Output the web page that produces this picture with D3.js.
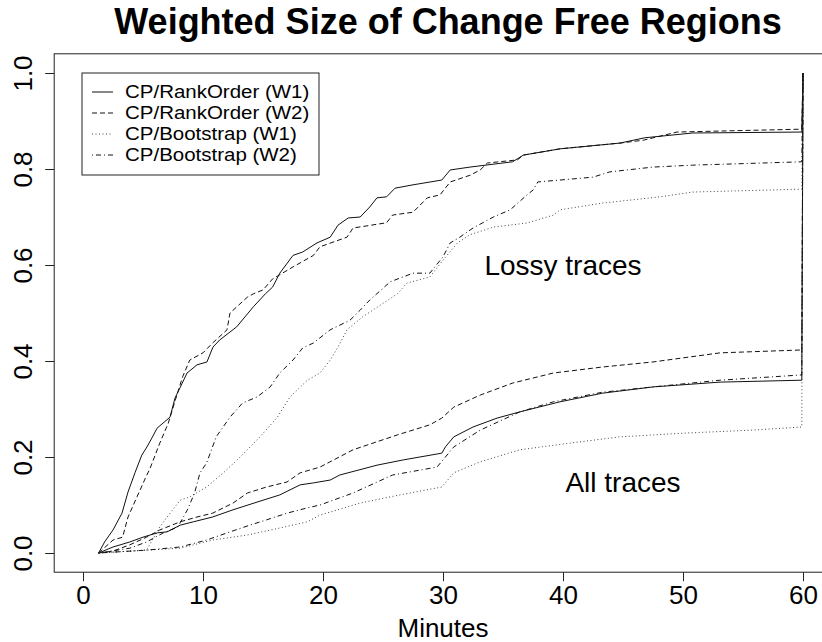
<!DOCTYPE html>
<html>
<head>
<meta charset="utf-8">
<script src="https://cdn.jsdelivr.net/npm/d3@7"></script>
<style>
  html, body { margin: 0; padding: 0; background: #fff; }
  svg { display: block; font-family: "Liberation Sans", Arial, Helvetica, sans-serif; }
</style>
</head>
<body>
<svg id="chart" width="822" height="642"></svg>
<script>
// Cumulative weighted size of change-free regions, [minutes, fraction]
const lossyRankW1 = [[1.3,0],[1.8,0.023],[2.5,0.048],[3.25,0.083],[3.75,0.127],[4.33,0.167],[4.9,0.204],[5.33,0.221],[5.75,0.24],[6.17,0.26],[7.25,0.283],[7.67,0.323],[8.08,0.344],[8.67,0.375],[9.5,0.392],[10.33,0.398],[10.83,0.429],[11.4,0.444],[12.8,0.471],[14.2,0.513],[15.2,0.54],[15.8,0.554],[16.4,0.583],[17.5,0.62],[18.3,0.627],[19.5,0.646],[20.6,0.658],[21.25,0.683],[22.1,0.698],[23.1,0.70],[23.9,0.721],[24.5,0.74],[25.3,0.742],[26,0.76],[27.5,0.767],[29.9,0.777],[30.6,0.798],[32.25,0.804],[35.8,0.815],[36.7,0.829],[39.75,0.842],[44.75,0.854],[46.8,0.865],[50.8,0.875],[59.9,0.877],[60,1.0]];
const lossyRankW2 = [[1.3,0],[2.5,0.027],[3.3,0.033],[3.75,0.075],[4.5,0.117],[5.2,0.156],[5.6,0.177],[6.4,0.229],[7.1,0.27],[7.7,0.319],[8.3,0.367],[8.9,0.402],[10,0.417],[10.8,0.4375],[12,0.465],[12.25,0.5],[13.7,0.533],[14.2,0.54],[15,0.548],[15.8,0.571],[17.5,0.596],[19.2,0.62],[19.75,0.638],[22,0.658],[22.5,0.677],[25.3,0.688],[25.8,0.704],[27.5,0.71],[28.7,0.74],[29.75,0.746],[30.6,0.773],[32.25,0.787],[33.1,0.798],[33.7,0.8125],[36.2,0.819],[36.7,0.829],[39.75,0.842],[44.75,0.854],[46.7,0.86],[49.5,0.877],[59.9,0.883],[60,1.0]];
const lossyBootW1 = [[1.3,0],[5.3,0.006],[6.4,0.054],[7.25,0.083],[8.1,0.11],[8.9,0.117],[10.3,0.1375],[11.7,0.167],[13.1,0.2],[14.75,0.242],[16.2,0.283],[17.25,0.325],[18.7,0.36],[19.75,0.375],[20.6,0.402],[21.2,0.427],[22,0.465],[23.3,0.492],[25,0.52],[26.2,0.54],[27,0.5625],[28.9,0.575],[30,0.61],[31.2,0.646],[32.25,0.663],[34.2,0.679],[37,0.6875],[39.2,0.704],[39.75,0.715],[43.3,0.729],[48.1,0.742],[50.8,0.752],[59.9,0.758],[60,1.0]];
const lossyBootW2 = [[1.3,0],[3.9,0.01],[5.3,0.023],[6.7,0.042],[7.9,0.054],[8.7,0.09],[9.3,0.125],[9.75,0.167],[10.3,0.1875],[11.1,0.242],[12.25,0.283],[13.3,0.3125],[14.5,0.325],[15.6,0.346],[16.4,0.375],[17.5,0.402],[18.3,0.427],[19.2,0.4375],[20.6,0.465],[22.25,0.485],[23.1,0.506],[23.9,0.527],[25.6,0.565],[27.5,0.583],[28.9,0.583],[30,0.617],[30.6,0.646],[31.4,0.658],[32.5,0.677],[34.2,0.7],[35.6,0.715],[37,0.746],[37.5,0.756],[37.9,0.773],[42.5,0.783],[43.9,0.794],[47.5,0.804],[50.8,0.808],[59.9,0.815],[60,1.0]];

const allRankW1 = [[1.3,0],[2.5,0.0125],[3.9,0.023],[5,0.033],[6.2,0.042],[7,0.044],[8.1,0.058],[9.2,0.065],[10.8,0.075],[12.5,0.09],[14.5,0.106],[16.4,0.121],[18.1,0.142],[19.2,0.146],[20.6,0.152],[21.4,0.1625],[24.5,0.183],[26.7,0.194],[29.9,0.208],[30.2,0.221],[30.9,0.242],[32.5,0.2625],[34.5,0.281],[36.4,0.294],[39.75,0.315],[43.3,0.333],[47.5,0.346],[53.1,0.356],[59.9,0.36],[60,1.0]];
const allRankW2 = [[1.3,0],[2.5,0.004],[3.9,0.017],[5.3,0.033],[6.4,0.048],[8.1,0.065],[9.5,0.075],[10.8,0.083],[12.5,0.104],[13.7,0.125],[15.3,0.1375],[17,0.148],[18.1,0.167],[19.75,0.179],[22.5,0.215],[26.2,0.246],[28.9,0.267],[29.9,0.281],[30.9,0.304],[33.1,0.329],[35.8,0.354],[39.2,0.375],[43.3,0.3875],[47.5,0.398],[53.1,0.417],[59.9,0.423],[60,1.0]];
const allBootW1 = [[1.3,0],[8.1,0.01],[10.8,0.027],[13.7,0.0375],[16.4,0.052],[18.7,0.065],[19.75,0.079],[23.1,0.104],[26.4,0.121],[29.9,0.1375],[30.9,0.167],[33.1,0.19],[36.4,0.215],[40.6,0.229],[44.75,0.242],[50.3,0.25],[55.8,0.256],[59.9,0.2625],[60,1.0]];
const allBootW2 = [[1.3,0],[5.3,0.006],[8.1,0.0125],[10.3,0.027],[12.25,0.044],[13.9,0.058],[15.3,0.069],[17,0.083],[18.7,0.094],[19.75,0.1],[22.5,0.125],[25.8,0.1625],[29.5,0.179],[30,0.194],[30.9,0.221],[33.1,0.256],[36.4,0.294],[39.2,0.315],[43.3,0.335],[47.5,0.346],[53.1,0.36],[59.9,0.371],[60,1.0]];

const legendLabels = ["CP/RankOrder (W1)", "CP/RankOrder (W2)", "CP/Bootstrap (W1)", "CP/Bootstrap (W2)"];
const xTicks = [0, 10, 20, 30, 40, 50, 60];
const yTicks = [0, 0.2, 0.4, 0.6, 0.8, 1.0];
const titleText = "Weighted Size of Change Free Regions";
const xLabel = "Minutes";
const annotations = [
  { text: "Lossy traces", x: 40, y: 0.58 },
  { text: "All traces", x: 45, y: 0.127 }
];

// line styles per method (index matches legendLabels)
const styles = [
  { dash: null, color: "#111" },
  { dash: "5,3", color: "#111" },
  { dash: "1,2.5", color: "#444" },
  { dash: "1,3,5,3", color: "#111" }
];

const svg = d3.select("#chart");

// 4% padding around the data range on both axes
const x = d3.scaleLinear().domain([-2.4, 62.4]).range([54.2, 831.8]);
const y = d3.scaleLinear().domain([-0.04, 1.04]).range([572.2, 53.8]);

const line = d3.line().x(d => x(d[0])).y(d => y(d[1]));

const groups = [
  [lossyRankW1, lossyRankW2, lossyBootW1, lossyBootW2],
  [allRankW1, allRankW2, allBootW1, allBootW2]
];

const plot = svg.append("g");
groups.forEach(set => {
  set.forEach((data, i) => {
    plot.append("path")
      .datum(data)
      .attr("d", line)
      .attr("fill", "none")
      .attr("stroke", styles[i].color)
      .attr("stroke-width", 1)
      .attr("stroke-dasharray", styles[i].dash);
  });
});

// frame
svg.append("rect")
  .attr("x", x.range()[0]).attr("y", y.range()[1])
  .attr("width", x.range()[1] - x.range()[0])
  .attr("height", y.range()[0] - y.range()[1])
  .attr("fill", "none").attr("stroke", "#222").attr("stroke-width", 1);

// axes
const xAxis = svg.append("g")
  .attr("transform", `translate(0,${y.range()[0]})`)
  .call(d3.axisBottom(x).tickValues(xTicks).tickFormat(d3.format("d")).tickSize(9).tickPadding(4).tickSizeOuter(0));
xAxis.select(".domain").remove();
xAxis.selectAll("line").attr("stroke", "#222");
xAxis.selectAll("text").attr("font-size", 26).attr("fill", "#000")
  .style("font-family", "'Liberation Sans', Arial, sans-serif");

const yAxis = svg.append("g")
  .attr("transform", `translate(${x.range()[0]},0)`)
  .call(d3.axisLeft(y).tickValues(yTicks).tickFormat(d3.format(".1f")).tickSize(9).tickSizeOuter(0));
yAxis.select(".domain").remove();
yAxis.selectAll("line").attr("stroke", "#222");
yAxis.selectAll("text")
  .attr("font-size", 26).attr("fill", "#000")
  .style("font-family", "'Liberation Sans', Arial, sans-serif")
  .attr("text-anchor", "middle")
  .attr("x", 0).attr("dy", 0).attr("y", -22)
  .attr("transform", "rotate(-90)");

// title and axis label
svg.append("text")
  .attr("x", 448).attr("y", 34)
  .attr("text-anchor", "middle").attr("font-size", 36).attr("font-weight", "bold")
  .text(titleText);

svg.append("text")
  .attr("x", (x.range()[0] + x.range()[1]) / 2).attr("y", 637)
  .attr("text-anchor", "middle").attr("font-size", 26)
  .text(xLabel);

// in-plot annotations
annotations.forEach(a => {
  svg.append("text")
    .attr("x", x(a.x)).attr("y", y(a.y))
    .attr("text-anchor", "middle").attr("font-size", 28)
    .text(a.text);
});

// legend
const lg = svg.append("g").attr("transform", "translate(82,73)");
lg.append("rect").attr("width", 237).attr("height", 102)
  .attr("fill", "#fff").attr("stroke", "#222").attr("stroke-width", 1);
legendLabels.forEach((lab, i) => {
  const cy = 19 + i * 21;
  lg.append("line")
    .attr("x1", 10).attr("x2", 31).attr("y1", cy).attr("y2", cy)
    .attr("stroke", styles[i].color).attr("stroke-width", 1)
    .attr("stroke-dasharray", styles[i].dash);
  const t = lg.append("text")
    .attr("x", 43).attr("y", cy).attr("dy", "0.36em")
    .attr("font-size", 17.5).text(lab);
  // widen glyphs to the legend's column width while keeping row height compact
  const w = t.node().getComputedTextLength();
  t.attr("textLength", w * 1.17).attr("lengthAdjust", "spacingAndGlyphs");
});
</script>
</body>
</html>
